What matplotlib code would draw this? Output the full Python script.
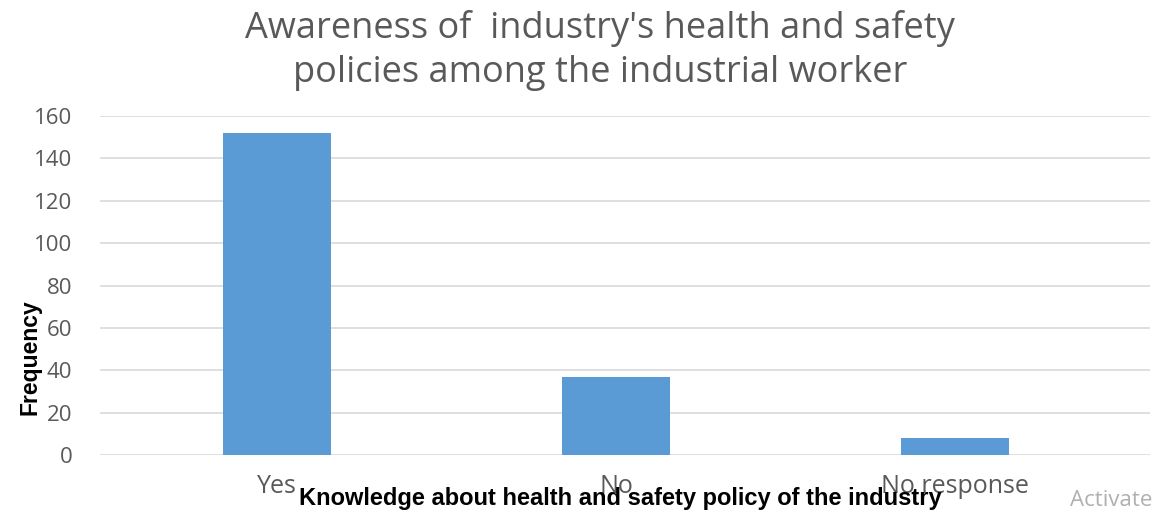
import matplotlib
matplotlib.use("Agg")
import matplotlib.pyplot as plt

categories = ["Yes", "No", "No response"]
frequency = [152, 37, 8]
yticks = [0, 20, 40, 60, 80, 100, 120, 140, 160]

grey = "#595959"

fig = plt.figure(figsize=(11.56, 5.13), dpi=100)
ax = fig.add_axes([100 / 1156, 58 / 513, 1050 / 1156, 339 / 513])

ax.bar(range(len(categories)), frequency, width=0.32, color="#5b9bd5", zorder=3)
ax.set_xlim(-0.522, 2.575)
ax.set_ylim(0, 160)
ax.set_yticks(yticks)
ax.set_xticks(range(len(categories)))
ax.set_xticklabels(categories, family="Open Sans", fontsize=18, color=grey)
for lbl in ax.get_yticklabels():
    lbl.set_family("Open Sans")
    lbl.set_fontsize(16)
    lbl.set_color(grey)
ax.tick_params(axis="y", length=0, pad=20)
ax.tick_params(axis="x", length=0, pad=14)
ax.grid(axis="y", color="#d9d9d9", linewidth=1.2, zorder=0)
for s in ax.spines.values():
    s.set_visible(False)

# title
fig.text(600 / 1156, 1 - 10 / 513, "Awareness of  industry's health and safety\npolicies among the industrial worker",
         ha="center", va="top", fontsize=26, color=grey, family="Open Sans", linespacing=1.3)

fig.text(30 / 1156, 1 - 357 / 513, "Frequency", rotation=90, ha="center", va="center",
         fontsize=16.5, fontweight="bold", family="Liberation Sans", color="black")
fig.text(620 / 1156, 1 - 498 / 513, "Knowledge about health and safety policy of the industry",
         ha="center", va="center", fontsize=17, fontweight="bold", family="Liberation Sans", color="black")
fig.text(1070 / 1156, 1 - 500 / 513, "Activate", ha="left", va="center",
         fontsize=16, color="#b0b0b0", family="Open Sans")

fig.savefig("out.png", dpi=100)
